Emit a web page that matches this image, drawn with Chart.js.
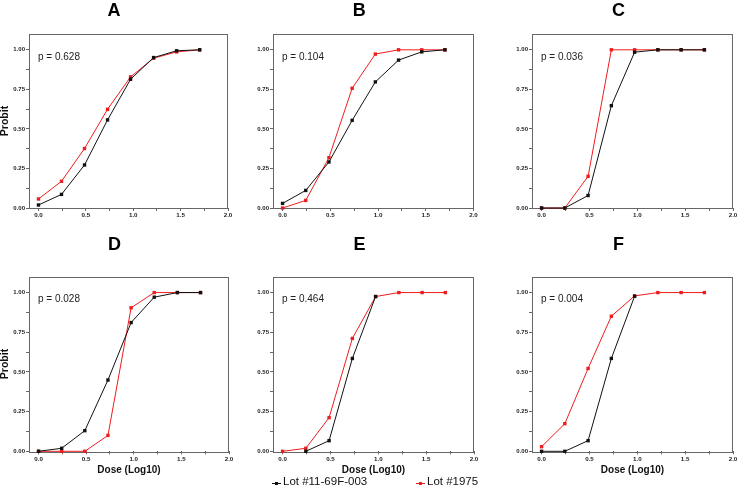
<!DOCTYPE html>
<html>
<head>
<meta charset="utf-8">
<script src="https://cdn.jsdelivr.net/npm/chart.js@4.4.0/dist/chart.umd.min.js"></script>
<style>
  html, body { margin: 0; padding: 0; background: #fff; overflow: hidden; }
  #wrap { position: relative; width: 738px; height: 488px; overflow: hidden; }
  #wrap canvas { position: absolute; }
  .lg { position: absolute; top: 475px; height: 16px; line-height: 16px; white-space: nowrap;
        font: 11.5px "Liberation Sans", Arial, sans-serif; color: #111; }
  .mk { display: inline-block; position: relative; width: 9px; height: 16px; vertical-align: top; margin-right: 2px; }
  .mk:before { content: ''; position: absolute; left: 0; right: 0; top: 8px; height: 1px; background: var(--c); }
  .mk:after { content: ''; position: absolute; left: 3px; top: 7px; width: 3px; height: 3px; background: var(--c); }
</style>
</head>
<body>
<div id="wrap">
  <canvas id="cA" width="236" height="225"></canvas>
  <canvas id="cB" width="264" height="225"></canvas>
  <canvas id="cC" width="266" height="225"></canvas>
  <canvas id="cD" width="236" height="263"></canvas>
  <canvas id="cE" width="260" height="263"></canvas>
  <canvas id="cF" width="264" height="263"></canvas>
  <div class="lg" id="lg1" style="left:272px"></div>
  <div class="lg" id="lg2" style="left:416px"></div>
</div>
<script>
// dose on log10 scale, same for every panel
var doses = [0, 0.243, 0.486, 0.729, 0.972, 1.215, 1.458, 1.701];

var seriesNames = ["Lot #11-69F-003", "Lot #1975"];
var seriesColors = ["#111111", "#ee1c1c"];

var panelTitles = ["A", "B", "C", "D", "E", "F"];
var pTexts = ["p = 0.628", "p = 0.104", "p = 0.036", "p = 0.028", "p = 0.464", "p = 0.004"];

// probit values
var aLot11   = [0.019, 0.086, 0.272, 0.557, 0.814, 0.951, 0.994, 1.0];
var aLot1975 = [0.057, 0.169, 0.376, 0.624, 0.829, 0.947, 0.987, 1.0];
var bLot11   = [0.029, 0.111, 0.291, 0.554, 0.797, 0.935, 0.987, 1.0];
var bLot1975 = [0.0, 0.048, 0.318, 0.757, 0.973, 1.0, 1.0, 1.0];
var cLot11   = [0.0, 0.0, 0.079, 0.647, 0.985, 1.0, 1.0, 1.0];
var cLot1975 = [0.0, 0.0, 0.20, 1.0, 1.0, 1.0, 1.0, 1.0];
var dLot11   = [0.0, 0.019, 0.13, 0.449, 0.811, 0.971, 1.0, 1.0];
var dLot1975 = [0.0, 0.0, 0.0, 0.10, 0.904, 1.0, 1.0, 1.0];
var eLot11   = [null, 0.0, 0.067, 0.585, 0.975, null, null, null];
var eLot1975 = [0.0, 0.019, 0.212, 0.711, 0.975, 1.0, 1.0, 1.0];
var fLot11   = [0.0, 0.0, 0.067, 0.585, 0.977, null, null, null];
var fLot1975 = [0.029, 0.174, 0.522, 0.851, 0.979, 1.0, 1.0, 1.0];

var xTicks = [0.0, 0.5, 1.0, 1.5, 2.0];
var yTicks = [0.00, 0.25, 0.50, 0.75, 1.00];

Chart.defaults.font.family = '"Liberation Sans", Arial, sans-serif';
Chart.defaults.color = '#222';

// box round the plot area and the p value text
var framePlugin = {
  id: 'frameP',
  beforeDatasetsDraw: function (chart, args, opts) {
    var a = chart.chartArea, ctx = chart.ctx;
    ctx.save();
    ctx.strokeStyle = '#666';
    ctx.lineWidth = 1;
    ctx.strokeRect(Math.round(a.left) + 0.5, Math.round(a.top) + 0.5,
                   Math.round(a.right - a.left) - 1, Math.round(a.bottom - a.top));
    ctx.fillStyle = '#222';
    ctx.font = '10px "Liberation Sans", Arial, sans-serif';
    ctx.textBaseline = 'middle';
    ctx.fillText(opts.text, a.left + 9, a.top + 23);
    ctx.restore();
  }
};

function toPoints(vals) {
  return vals.map(function (v, i) { return { x: doses[i], y: v }; });
}

function makeChart(id, idx, lot11, lot1975, cfg) {
  var el = document.getElementById(id);
  var ctx = el.getContext('2d');
  el.style.left = cfg.left + 'px';
  el.style.top = cfg.top + 'px';
  var bottomRow = cfg.top > 0;
  return new Chart(ctx, {
    type: 'line',
    data: {
      datasets: [{
        label: seriesNames[0],
        data: toPoints(lot11),
        borderColor: seriesColors[0],
        backgroundColor: seriesColors[0],
        borderWidth: 1,
        pointStyle: 'rect',
        pointRadius: 2.4,
        pointBorderWidth: 0,
        clip: false
      }, {
        label: seriesNames[1],
        data: toPoints(lot1975),
        borderColor: seriesColors[1],
        backgroundColor: seriesColors[1],
        borderWidth: 1,
        pointStyle: 'rect',
        pointRadius: 2.4,
        pointBorderWidth: 0,
        clip: false
      }]
    },
    options: {
      responsive: false,
      animation: false,
      layout: { padding: { right: cfg.padR, left: 0, top: 0, bottom: 0 } },
      plugins: {
        legend: { display: false },
        tooltip: { enabled: false },
        title: {
          display: true,
          text: panelTitles[idx],
          color: '#000',
          font: { size: 18, weight: 'bold' },
          padding: bottomRow ? { top: 9.2, bottom: 20.9 } : { top: 0, bottom: 12.4 }
        },
        frameP: { text: pTexts[idx] }
      },
      scales: {
        x: {
          type: 'linear',
          min: -0.1,
          max: 2.0,
          afterFit: function (s) { s.height = bottomRow ? 36.7 : 17; },
          afterBuildTicks: function (s) {
            var t = [];
            for (var v = 0; v <= 2.0001; v += 0.25) t.push({ value: Math.round(v * 100) / 100 });
            s.ticks = t;
          },
          ticks: {
            autoSkip: false,
            maxRotation: 0,
            padding: 1,
            font: { size: 6.2, weight: 'bold' },
            callback: function (v) { return xTicks.indexOf(v) >= 0 ? v.toFixed(1) : ''; }
          },
          grid: { drawOnChartArea: false, color: '#666', tickLength: 3 },
          border: { display: false },
          title: {
            display: bottomRow,
            text: 'Dose (Log10)',
            color: '#111',
            font: { size: 10, weight: 'bold', lineHeight: 1 },
            padding: { top: 0, bottom: 12.3 }
          }
        },
        y: {
          type: 'linear',
          min: 0,
          max: 1.1,
          afterFit: function (s) { s.width = cfg.yw; },
          afterBuildTicks: function (s) {
            var t = [];
            for (var v = 0; v <= 1.0001; v += 0.125) t.push({ value: Math.round(v * 1000) / 1000 });
            s.ticks = t;
          },
          ticks: {
            autoSkip: false,
            padding: 1,
            font: { size: 6, weight: 'bold' },
            callback: function (v) { return yTicks.indexOf(v) >= 0 ? v.toFixed(2) : ''; }
          },
          grid: { drawOnChartArea: false, color: '#666', tickLength: 3 },
          border: { display: false },
          title: {
            display: cfg.yTitle,
            text: 'Probit',
            color: '#111',
            font: { size: 10.5, weight: 'bold', lineHeight: 1 },
            padding: { top: 0, bottom: 0 }
          }
        }
      }
    },
    plugins: [framePlugin]
  });
}

makeChart('cA', 0, aLot11, aLot1975, { left: 0,   top: 0,   yw: 29, padR: 8,    yTitle: true });
makeChart('cB', 1, bLot11, bLot1975, { left: 245, top: 0,   yw: 28, padR: 35.5, yTitle: false });
makeChart('cC', 2, cLot11, cLot1975, { left: 504, top: 0,   yw: 28, padR: 37,   yTitle: false });
makeChart('cD', 3, dLot11, dLot1975, { left: 0,   top: 225, yw: 29, padR: 7,    yTitle: true });
makeChart('cE', 4, eLot11, eLot1975, { left: 245, top: 225, yw: 28, padR: 31,   yTitle: false });
makeChart('cF', 5, fLot11, fLot1975, { left: 504, top: 225, yw: 28, padR: 35,   yTitle: false });

// legend under the middle panel
['lg1', 'lg2'].forEach(function (id, i) {
  var d = document.getElementById(id);
  var mk = document.createElement('span');
  mk.className = 'mk';
  mk.style.setProperty('--c', seriesColors[i]);
  d.appendChild(mk);
  d.appendChild(document.createTextNode(seriesNames[i]));
});
</script>
</body>
</html>
